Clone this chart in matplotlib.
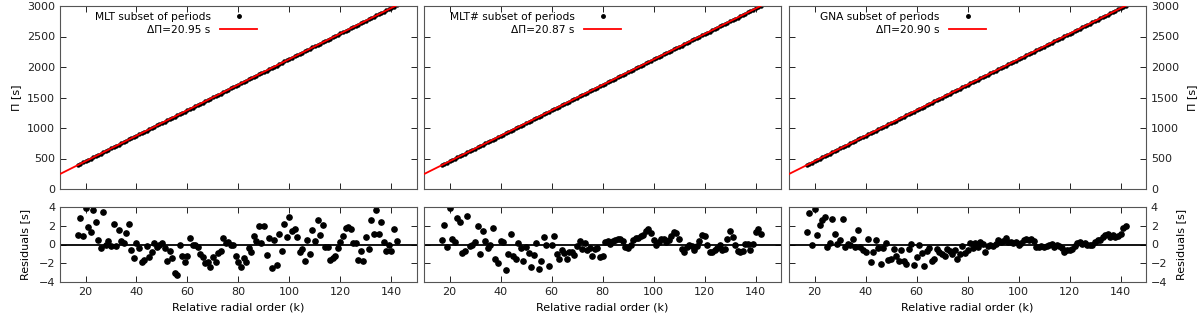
import numpy as np
import matplotlib.pyplot as plt
from matplotlib.lines import Line2D

# relative radial order of the periods (same in all three subsets)
k = np.arange(17, 143)

names = ["MLT", "MLT#", "GNA"]
delta_pi = [20.95, 20.87, 20.90]
intercepts = [36.0, 36.0, 37.0]

resid_mlt = [
    1.0, 2.8, 0.9, 3.9, 1.85, 1.3, 3.7, 2.35, 0.45, -0.35,
    3.5, -0.1, 0.35, -0.2, 2.2, -0.2, 1.5, 0.35, 0.15, 1.2,
    2.15, -0.55, -1.45, 0.2, -0.35, -1.9, -1.6, -0.2, -1.3, -0.8,
    0.15, -0.3, -0.1, 0.2, -0.4, -1.8, -0.7, -1.4, -3.0, -3.3,
    -0.05, -1.2, -1.9, -1.25, 0.65, -0.1, -0.05, -0.3, -1.0, -1.35,
    -1.95, -1.9, -2.4, -1.3, -1.85, -0.95, -0.65, 0.7, 0.15, 0.3,
    -0.05, -0.1, -1.25, -1.85, -2.35, -1.4, -1.85, -0.4, -0.8, 0.95,
    0.35, 1.95, 0.2, 2.0, -1.15, 0.65, -2.55, 0.45, -2.2, 1.1,
    -0.7, 2.15, 0.8, 2.95, 1.4, 1.7, 0.8, -0.8, -0.45, -1.75,
    0.45, -1.05, 1.55, 0.4, 2.65, 1.0, 2.05, -0.25, -0.25, -1.6,
    -1.4, -1.25, -0.35, 0.3, 0.9, 1.8, 1.9, 1.7, 0.2, 0.2,
    -1.6, -0.7, -1.75, 0.75, -0.45, 2.65, 1.15, 3.65, 1.1, 2.35,
    0.3, -0.7, 0.0, -0.7, 1.7, 0.35,
]

resid_mltb = [
    0.45, 2.05, -0.25, 3.9, 0.55, 0.25, 2.8, 2.45, -0.9, -0.7,
    3.0, -0.2, 0.0, 0.3, 2.0, -1.05, 1.4, 0.4, -0.35, -0.05,
    1.75, -1.5, -2.0, 0.4, 0.3, -2.7, -1.05, 1.15, -1.25, -1.5,
    0.2, -0.4, -1.75, -0.25, -0.9, -2.45, -1.15, 0.15, -2.65, -1.8,
    0.8, -0.1, -2.3, -0.1, 0.95, -1.05, -1.55, -0.55, -0.9, -1.5,
    -0.75, -0.8, -1.15, -0.15, 0.4, -0.45, 0.2, -0.55, -0.35, -1.25,
    -0.45, -0.35, -1.35, -1.25, 0.25, 0.35, 0.05, 0.35, 0.5, 0.6,
    0.55, 0.4, -0.3, -0.35, -0.05, 0.5, 0.7, 0.7, 0.9, 1.05,
    1.4, 1.7, 1.2, 0.5, -0.1, 0.3, 0.6, 0.55, 0.25, 0.5,
    0.95, 1.3, 1.25, 0.6, -0.45, -0.75, -0.3, -0.05, -0.2, -0.55,
    -0.2, 0.35, 1.05, 0.9, 0.0, -0.75, -0.75, -0.55, -0.4, -0.1,
    -0.55, -0.45, 0.6, 1.4, 0.8, -0.05, -0.65, -0.8, -0.65, 0.05,
    0.05, -0.55, 0.05, 1.3, 1.65, 1.1,
]

resid_gna = [
    1.3, 3.4, 0.0, 3.75, 1.0, 2.05, 2.6, 2.95, -0.3, 0.2,
    2.7, 1.15, 0.05, 0.45, 2.7, -0.3, 0.1, -0.05, 0.55, -0.25,
    1.5, -0.25, -0.55, -0.8, 0.55, -1.9, -0.85, 0.5, -0.4, -2.05,
    -0.4, 0.2, -1.7, -1.5, -0.45, -1.2, -1.75, -0.55, -1.8, -2.05,
    -0.5, 0.1, -2.15, -1.35, -0.05, -0.9, -2.25, -0.7, -0.4, -1.8,
    -1.55, -0.45, -0.75, -1.0, -1.2, -0.45, -0.7, -1.05, -0.6, -1.5,
    -1.0, -0.2, -0.9, -0.55, 0.15, -0.4, 0.2, -0.25, 0.3, 0.05,
    -0.75, -0.15, -0.05, -0.2, 0.05, 0.5, 0.3, 0.4, 0.7, 0.3,
    0.3, 0.2, 0.3, -0.05, 0.15, 0.5, 0.55, 0.5, 0.55, 0.4,
    -0.3, -0.3, -0.2, -0.25, -0.15, -0.05, 0.05, -0.3, -0.1, -0.2,
    -0.35, -0.8, -0.6, -0.6, -0.45, -0.2, 0.2, 0.3, 0.1, 0.15,
    -0.1, -0.1, -0.05, 0.3, 0.45, 0.5, 0.85, 1.05, 1.1, 0.75,
    1.05, 0.85, 0.9, 1.1, 1.75, 1.95,
]

residuals = [resid_mlt, resid_mltb, resid_gna]

plt.rcParams['font.family'] = 'DejaVu Sans'
plt.rcParams['font.size'] = 8

W, H = 1200, 323
fig = plt.figure(figsize=(W / 100, H / 100), dpi=100)
lefts = [60, 424, 789]
pw = 357

def style(ax):
    ax.tick_params(direction='in', top=True, right=True, length=4,
                   width=0.7, labelsize=8, colors='#222222')
    for s in ax.spines.values():
        s.set_color('#555555')
        s.set_linewidth(0.8)

for i in range(3):
    l = lefts[i]
    ax = fig.add_axes([l / W, 1 - 189 / H, pw / W, (189 - 6) / H])
    ax2 = fig.add_axes([l / W, 1 - 282 / H, pw / W, (282 - 207) / H])

    r = np.array(residuals[i])
    periods = intercepts[i] + delta_pi[i] * k + r

    ax.plot(k, periods, 'o', color='black', markersize=2.2, zorder=2)
    xfit = np.array([10, k.max()])
    ax.plot(xfit, intercepts[i] + delta_pi[i] * xfit, color='red',
            lw=1.3, zorder=3)
    ax.set_xlim(10, 150)
    ax.set_ylim(0, 3000)
    ax.set_xticks(range(20, 141, 20))
    ax.set_yticks(range(0, 3001, 500))
    ax.tick_params(labelbottom=False)
    style(ax)

    h1 = Line2D([], [], ls='none', marker='o', color='black', markersize=2.5)
    h2 = Line2D([], [], color='red', lw=1.3)
    ax.legend([h1, h2], [names[i] + " subset of periods",
                         "ΔΠ=%.2f s" % delta_pi[i]],
              loc='upper right', bbox_to_anchor=(0.56, 0.985),
              frameon=False, markerfirst=False, handlelength=3.4,
              handletextpad=0.9, labelspacing=0.3, borderpad=0.3,
              borderaxespad=0.0, fontsize=7.7)

    ax2.plot(k, r, 'o', color='black', markersize=3.8)
    ax2.axhline(0, color='black', lw=1.3)
    ax2.set_xlim(10, 150)
    ax2.set_ylim(-4, 4)
    ax2.set_xticks(range(20, 141, 20))
    ax2.set_yticks([-4, -2, 0, 2, 4])
    ax2.set_xlabel("Relative radial order (k)", labelpad=4)
    style(ax2)

    if i == 0:
        ax.set_ylabel("Π [s]")
        ax2.set_ylabel("Residuals [s]", labelpad=6)
    elif i == 1:
        ax.tick_params(labelleft=False)
        ax2.tick_params(labelleft=False)
    else:
        ax.tick_params(labelleft=False, labelright=True)
        ax2.tick_params(labelleft=False, labelright=True)
        ax.yaxis.set_label_position('right')
        ax2.yaxis.set_label_position('right')
        ax.set_ylabel("Π [s]", labelpad=6)
        ax2.set_ylabel("Residuals [s]", labelpad=6)

fig.savefig("out.png", dpi=100)
